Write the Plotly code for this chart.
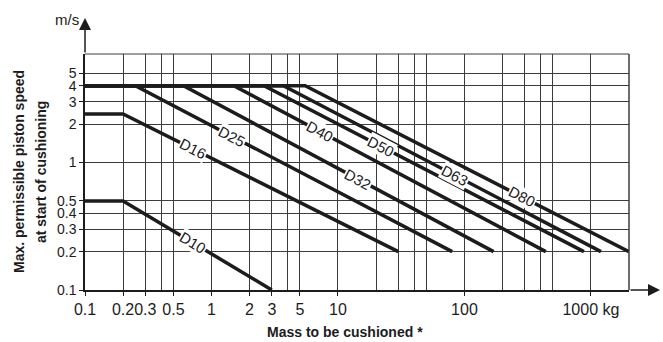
import numpy as np
import plotly.graph_objects as go

# ---- data ----
names = ["D10", "D16", "D25", "D32", "D40", "D50", "D63", "D80"]
# each curve: start at mass 0.1, flat to break mass, then straight (log-log) to end point
flat_speed = [0.5, 2.4, 4, 4, 4, 4, 4, 4]
break_mass = [0.2, 0.2, 0.25, 0.6, 1.5, 2.6, 3.7, 5.5]
end_mass = [3, 30, 80, 170, 440, 880, 1200, 2000]
end_speed = [0.1, 0.2, 0.2, 0.2, 0.2, 0.2, 0.2, 0.2]
label_mass = [0.71, 0.71, 1.45, 14.4, 7.2, 21.9, 84, 285]

x_major = [0.1, 0.2, 0.3, 0.5, 1, 2, 3, 5, 10, 100, 1000]
x_major_text = ["0.1", "0.2", "0.3", "0.5", "1", "2", "3", "5", "10", "100", "1000 kg"]
x_minor = [0.4, 4, 20, 30, 40, 50, 200, 300, 400, 500, 2000]
y_major = [0.1, 0.2, 0.3, 0.4, 0.5, 1, 2, 3, 4, 5]
y_major_text = ["0.1", "0.2", "0.3", "0.4", "0.5", "1", "2", "3", "4", "5"]
x_range = [0.1, 2000]
y_range = [0.1, 7.1]

FONT = "Liberation Sans, Arial, sans-serif"
TICKFONT = "Liberation Sans Narrow, Arial Narrow, Liberation Sans, sans-serif"
INK = "#1c1c1c"
GRID = "#3c3c3c"

W, H = 663, 342
ML, MR, MT, MB = 85, 34, 54, 52
pw, ph = W - ML - MR, H - MT - MB
px_per_dec_x = pw / (np.log10(x_range[1]) - np.log10(x_range[0]))
px_per_dec_y = ph / (np.log10(y_range[1]) - np.log10(y_range[0]))

fig = go.Figure()
annotations = []
for i, n in enumerate(names):
    xs = [0.1, break_mass[i], end_mass[i]]
    ys = [flat_speed[i], flat_speed[i], end_speed[i]]
    fig.add_trace(go.Scatter(x=xs, y=ys, mode="lines",
                             line=dict(color=INK, width=3.5), showlegend=False,
                             hoverinfo="skip"))
    # label along sloped segment
    lx0, ly0 = np.log10(break_mass[i]), np.log10(flat_speed[i])
    lx1, ly1 = np.log10(end_mass[i]), np.log10(end_speed[i])
    slope = (ly1 - ly0) / (lx1 - lx0)
    lx = np.log10(label_mass[i])
    ly = ly0 + slope * (lx - lx0)
    ang = np.degrees(np.arctan(-slope * px_per_dec_y / px_per_dec_x))
    annotations.append(dict(x=lx, y=ly, xref="x", yref="y", text=n, showarrow=False,
                            textangle=ang, bgcolor="white", borderpad=0,
                            font=dict(family=FONT, size=15, color=INK)))

# axis arrows and unit
annotations.append(dict(xref="paper", yref="paper", x=0, y=(ph + MT - 18) / ph,
                        ax=0, ay=MT - 18, axref="pixel", ayref="pixel", text="",
                        showarrow=True, arrowhead=2, arrowsize=1.6, arrowwidth=1.5,
                        arrowcolor=INK))
annotations.append(dict(xref="paper", yref="paper", x=(660 - ML) / pw, y=0,
                        ax=-(660 - ML - pw), ay=0, axref="pixel", ayref="pixel", text="",
                        showarrow=True, arrowhead=2, arrowsize=1.6, arrowwidth=1.5,
                        arrowcolor=INK))
annotations.append(dict(xref="paper", yref="paper", x=0, y=(ph + MT - 20) / ph,
                        xanchor="right", yanchor="middle", xshift=-4, text="m/s",
                        showarrow=False, font=dict(family=TICKFONT, size=15, color=INK)))
# axis titles
annotations.append(dict(xref="paper", yref="paper", x=(19 - ML) / pw, y=0.5,
                        text="<b>Max. permissible piston speed</b>", textangle=-90,
                        showarrow=False, xanchor="center", yanchor="middle",
                        font=dict(family=FONT, size=14, color=INK)))
annotations.append(dict(xref="paper", yref="paper", x=(41 - ML) / pw, y=0.5,
                        text="<b>at start of cushioning</b>", textangle=-90,
                        showarrow=False, xanchor="center", yanchor="middle",
                        font=dict(family=FONT, size=14, color=INK)))
annotations.append(dict(xref="paper", yref="paper", x=(345 - ML) / pw, y=-(332 - MT - ph) / ph,
                        text="<b>Mass to be cushioned *</b>",
                        showarrow=False, xanchor="center", yanchor="middle",
                        font=dict(family=FONT, size=14, color=INK)))

shapes = [
    dict(type="line", xref="paper", yref="paper", x0=0, x1=1, y0=1, y1=1,
         line=dict(color=GRID, width=1)),
    dict(type="line", xref="paper", yref="paper", x0=1, x1=1, y0=0, y1=1,
         line=dict(color=GRID, width=1.5)),
]

fig.update_layout(
    width=W, height=H, margin=dict(l=ML, r=MR, t=MT, b=MB, autoexpand=False),
    paper_bgcolor="white", plot_bgcolor="white",
    annotations=annotations, shapes=shapes,
    xaxis=dict(type="log", range=[np.log10(x_range[0]), np.log10(x_range[1])],
               tickvals=x_major, ticktext=x_major_text, showgrid=True, tickangle=0,
               gridcolor=GRID, gridwidth=1, ticks="outside", ticklen=4,
               tickcolor=INK, showline=True, linecolor=INK, linewidth=1.5,
               zeroline=False, tickfont=dict(family=TICKFONT, size=16, color=INK),
               minor=dict(tickvals=x_minor, showgrid=True, gridcolor=GRID,
                          gridwidth=1, ticks="")),
    yaxis=dict(type="log", range=[np.log10(y_range[0]), np.log10(y_range[1])],
               tickvals=y_major, ticktext=y_major_text, showgrid=True,
               gridcolor=GRID, gridwidth=1, ticks="outside", ticklen=4,
               tickcolor=INK, showline=True, linecolor=INK, linewidth=1.5,
               zeroline=False, tickfont=dict(family=TICKFONT, size=14, color=INK)),
)

fig.write_html("out.html", config={"displayModeBar": False},
               post_script="document.body.style.margin='0px';document.body.style.overflow='hidden';")
